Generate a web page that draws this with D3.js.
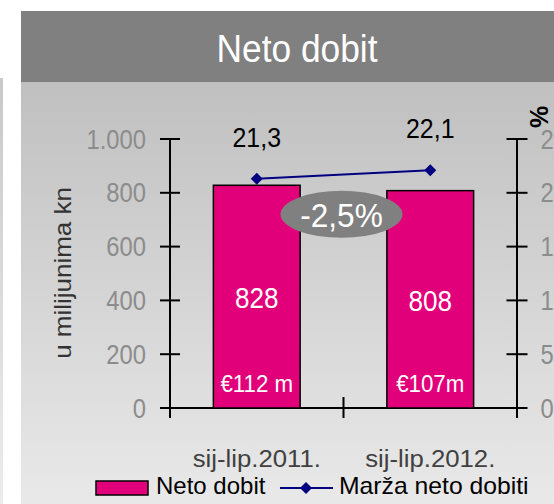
<!DOCTYPE html>
<html>
<head>
<meta charset="utf-8">
<script src="https://cdn.jsdelivr.net/npm/d3@7"></script>
<style>
html,body{margin:0;padding:0;background:#fff;}
svg{display:block;}
text{font-family:"Liberation Sans", Arial, sans-serif;}
</style>
</head>
<body>
<svg id="chart" width="554" height="504"></svg>
<script>
// ---- data ----
const title = "Neto dobit";
const categories = ["sij-lip.2011.", "sij-lip.2012."];
const netoDobit = [828, 808];
const marza = [21.3, 22.1];
const eurLabels = ["€112 m", "€107m"];
const leftTicks = [0, 200, 400, 600, 800, 1000];
const rightTicks = [0, 5, 10, 15, 20, 25];
const changeLabel = "-2,5%";
const changeLevel = 720; // position on left scale for the change bubble
const yLabel = "u milijunima kn";
const rightUnit = "%";
const legendLabels = ["Neto dobit", "Marža neto dobiti"];

// ---- style ----
const MAGENTA = "#e2007a";
const NAVY = "#000080";
const fmtThousands = v => d3.format(",")(v).replace(/,/g, ".");
const fmtDec = v => d3.format(".1f")(v).replace(".", ",");

const svg = d3.select("#chart");
const W = 554, H = 504;

const defs = svg.append("defs");
const g1 = defs.append("linearGradient").attr("id", "panelGrad")
  .attr("x1", 0).attr("y1", 0).attr("x2", 0).attr("y2", 1);
g1.append("stop").attr("offset", "0%").attr("stop-color", "#c0c0c0");
g1.append("stop").attr("offset", "100%").attr("stop-color", "#e9e9e9");
const g2 = defs.append("linearGradient").attr("id", "stripGrad")
  .attr("x1", 0).attr("y1", 0).attr("x2", 0).attr("y2", 1);
g2.append("stop").attr("offset", "0%").attr("stop-color", "#c9c9c9");
g2.append("stop").attr("offset", "100%").attr("stop-color", "#ececec");

// background pieces
svg.append("rect").attr("x", 0).attr("y", 78).attr("width", 3).attr("height", H - 78)
  .attr("fill", "url(#stripGrad)");
svg.append("rect").attr("x", 21).attr("y", 82).attr("width", W - 21).attr("height", H - 82)
  .attr("fill", "url(#panelGrad)");
svg.append("rect").attr("x", 21).attr("y", 11).attr("width", W - 21).attr("height", 71)
  .attr("fill", "#808080");

// helper for horizontally scaled text
function label(parent, x, y, txt, o) {
  const t = parent.append("text")
    .attr("transform", `translate(${x},${y}) scale(${o.sx || 1},1)`)
    .attr("text-anchor", o.anchor || "middle")
    .attr("font-size", o.size)
    .attr("fill", o.fill || "#000")
    .text(txt);
  if (o.weight) t.attr("font-weight", o.weight);
  return t;
}

// title
label(svg, 297, 61.5, title, {size: 38, sx: 0.93, fill: "#fff"});

// scales
const x = d3.scaleBand().domain(categories).range([170, 517])
  .paddingInner(0.5).paddingOuter(0.25);
const step = x.step();
const xCenter = c => x(c) + x.bandwidth() / 2;
const y = d3.scaleLinear().domain([0, 1000]).range([408, 139]);
const y2 = d3.scaleLinear().domain([0, 25]).range([408, 139]);

const axisG = svg.append("g").attr("stroke", "#000").attr("stroke-width", 2);
const xL = x.range()[0], xR = x.range()[1];
// left axis
axisG.append("line").attr("x1", xL).attr("x2", xL).attr("y1", y(1000)).attr("y2", y(0) + 10);
leftTicks.forEach(v => axisG.append("line").attr("x1", xL - 10).attr("x2", xL + 10)
  .attr("y1", y(v)).attr("y2", y(v)));
// right axis
axisG.append("line").attr("x1", xR).attr("x2", xR).attr("y1", y2(25)).attr("y2", y2(0) + 10);
rightTicks.forEach(v => axisG.append("line").attr("x1", xR - 10.5).attr("x2", xR + 10.5)
  .attr("y1", y2(v)).attr("y2", y2(v)));

// tick labels
leftTicks.forEach(v => label(svg, xL - 24, y(v) + 9.5, fmtThousands(v),
  {size: 27, sx: 0.88, anchor: "end", fill: "#8c8c8c"}));
rightTicks.forEach(v => label(svg, xR + 23.5, y2(v) + 9.5, String(v),
  {size: 27, sx: 0.88, anchor: "start", fill: "#8c8c8c"}));

// right unit
svg.append("text").attr("transform", `translate(548,117) rotate(-90)`)
  .attr("text-anchor", "middle").attr("font-size", 25).attr("font-weight", "bold")
  .attr("fill", "#000").text(rightUnit);

// y label
svg.append("text").attr("transform", `translate(70.5,273) rotate(-90) scale(1.06,1)`)
  .attr("text-anchor", "middle").attr("font-size", 24.5).attr("fill", "#333")
  .text(yLabel);

// bars
svg.append("g").selectAll("rect").data(categories).join("rect")
  .attr("x", c => x(c)).attr("width", x.bandwidth())
  .attr("y", (c, i) => y(netoDobit[i])).attr("height", (c, i) => y(0) - y(netoDobit[i]))
  .attr("fill", MAGENTA).attr("stroke", "#000").attr("stroke-width", 1.5);

// x axis (drawn over bars' bottoms)
axisG.append("line").attr("x1", xL - 10).attr("x2", xR + 10).attr("y1", y(0)).attr("y2", y(0));
axisG.append("line").attr("x1", xL + step).attr("x2", xL + step)
  .attr("y1", y(0) - 11).attr("y2", y(0) + 10);

// bar labels
categories.forEach((c, i) => {
  const mid = (y(netoDobit[i]) + y(0)) / 2;
  label(svg, xCenter(c), mid + 11.5, String(netoDobit[i]), {size: 29, sx: 0.9, fill: "#fff"});
  label(svg, xCenter(c), y(0) - 16.5, eurLabels[i], {size: 23.5, sx: 0.95, fill: "#fff"});
});

// marza line
const line = d3.line().x((d, i) => xCenter(categories[i])).y(d => y2(d));
svg.append("path").datum(marza).attr("d", line)
  .attr("fill", "none").attr("stroke", NAVY).attr("stroke-width", 2);
const diamond = d3.symbol(d3.symbolSquare).size(72);
svg.append("g").selectAll("path").data(marza).join("path")
  .attr("d", diamond())
  .attr("transform", (d, i) => `translate(${xCenter(categories[i])},${y2(d)}) rotate(45)`)
  .attr("fill", NAVY);
marza.forEach((m, i) => label(svg, xCenter(categories[i]), y2(m) - 32, fmtDec(m),
  {size: 28, sx: 0.89, fill: "#000"}));

// change bubble
const bx = (xCenter(categories[0]) + xCenter(categories[1])) / 2 - 2;
const by = y(changeLevel);
svg.append("ellipse").attr("cx", bx).attr("cy", by).attr("rx", 61).attr("ry", 23.5)
  .attr("fill", "#808080");
label(svg, bx, by + 12.3, changeLabel, {size: 34, sx: 0.93, fill: "#fff"});

// category labels
categories.forEach(c => label(svg, xCenter(c), 467, c, {size: 24.5, sx: 1.05, fill: "#404040"}));

// legend
const lg = svg.append("g");
lg.append("rect").attr("x", 96).attr("y", 481).attr("width", 52).attr("height", 14)
  .attr("fill", MAGENTA).attr("stroke", "#000").attr("stroke-width", 1.5);
label(lg, 156, 494, legendLabels[0], {size: 24, sx: 1.0, anchor: "start"});
lg.append("line").attr("x1", 280).attr("x2", 333).attr("y1", 488).attr("y2", 488)
  .attr("stroke", NAVY).attr("stroke-width", 2);
lg.append("path").attr("d", diamond()).attr("transform", "translate(306,488) rotate(45)")
  .attr("fill", NAVY);
label(lg, 339, 494, legendLabels[1], {size: 24, sx: 1.03, anchor: "start"});
</script>
</body>
</html>
